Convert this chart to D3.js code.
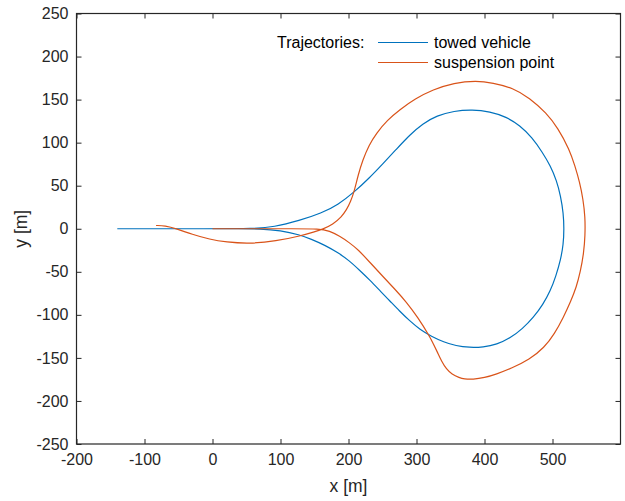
<!DOCTYPE html>
<html>
<head>
<meta charset="utf-8">
<script src="https://cdn.jsdelivr.net/npm/d3@7"></script>
<style>
  body { margin: 0; background: #fff; }
  svg { font-family: Arial, "Liberation Sans", Helvetica, sans-serif; }
</style>
</head>
<body>
<div id="chart"></div>
<script>
// tick labels
var xTicks = [-200, -100, 0, 100, 200, 300, 400, 500];
var yTicks = [-250, -200, -150, -100, -50, 0, 50, 100, 150, 200, 250];

// towed vehicle trajectory
var towedX = [-140, 0, 60, 90, 128, 160, 185, 209, 230, 250, 270, 290, 309, 330, 355, 382, 408, 432, 452, 470,
              485, 497, 506, 512, 516, 517, 516, 512, 505, 497, 486, 472, 456, 438, 418, 398, 378, 358, 340, 322,
              305, 290, 275, 261, 248, 232, 216, 201, 185, 165, 145, 128, 100, 70, 40, 0];
var towedY = [0, 0, 0, 2, 9.5, 18, 28, 43, 58.5, 75, 92, 109, 122, 131.5, 136.8, 138.5, 136, 130, 120, 106,
              89, 73, 56, 38, 18, 0, -18, -36, -55, -72, -88, -103, -116, -127, -134.5, -137.5, -138, -136, -131.5, -125,
              -117, -107, -95.5, -84, -73.5, -60, -48, -37, -28, -19, -12, -7, -2, 0, 0, 0];

// suspension point trajectory
var suspX = [-83, -70, -53, -30, -4, 20, 54, 94, 128, 150, 162, 177, 190, 197, 203, 209, 214, 221, 230, 241,
             257, 275, 298, 324, 355, 388, 412, 442, 466, 491, 508, 525, 533, 540, 545, 548, 548, 546, 541, 535,
             527, 516, 503, 488, 466, 440, 417, 400, 383, 370, 363, 352, 344, 337, 331, 325, 319, 302, 285, 268,
             250, 232, 214, 201, 187, 172, 157, 120, 60, 0];
var suspY = [3.8, 3.5, 0, -6.5, -12.4, -15.5, -17.5, -14.3, -8.6, -3.5, -0.5, 5, 14, 22, 31, 45, 62, 80, 97, 111,
             126, 138, 151, 161.5, 169.5, 172, 169.5, 163.6, 152, 134.6, 117, 92, 73, 54, 34, 14, -8, -28, -50, -68,
             -84, -103, -122, -138, -152, -162, -169, -173, -175, -174.5, -173, -169, -163, -154, -143.8, -134, -124.6, -103, -85, -70,
             -55, -39.5, -24, -16, -8.6, -2.5, 0, 0, 0, 0];

var seriesNames = ['towed vehicle', 'suspension point'];
var seriesColors = ['#0072BD', '#D95319'];

var width = 625;
var height = 501;
var padLeft = 76.5, padRight = 620.5, padTop = 13.5, padBottom = 444;

var svg = d3.select('#chart')
            .append('svg')
            .attr('width', width)
            .attr('height', height);

var x = d3.scaleLinear().domain([-200, 600]).range([padLeft, padRight]);
var y = d3.scaleLinear().domain([-250, 250]).range([padBottom, padTop]);

function styleAxis(g) {
  g.select('.domain').remove();
  g.selectAll('.tick line').attr('stroke', '#262626').attr('stroke-width', 1);
  g.selectAll('.tick text').attr('fill', '#262626').style('font-size', '16px');
}

// bottom and left axes with labels, inward ticks
svg.append('g')
   .attr('transform', 'translate(0,' + padBottom + ')')
   .call(d3.axisBottom(x).tickValues(xTicks).tickSize(-5).tickPadding(10).tickFormat(d => String(d)))
   .call(styleAxis);

svg.append('g')
   .attr('transform', 'translate(' + padLeft + ',0)')
   .call(d3.axisLeft(y).tickValues(yTicks).tickSize(-5).tickPadding(8).tickFormat(d => String(d)))
   .call(styleAxis);

// mirrored top and right ticks
svg.append('g')
   .attr('transform', 'translate(0,' + padTop + ')')
   .call(d3.axisTop(x).tickValues(xTicks).tickSize(-5).tickFormat(''))
   .call(styleAxis);

svg.append('g')
   .attr('transform', 'translate(' + padRight + ',0)')
   .call(d3.axisRight(y).tickValues(yTicks).tickSize(-5).tickFormat(''))
   .call(styleAxis);

// box
svg.append('rect')
   .attr('x', padLeft)
   .attr('y', padTop)
   .attr('width', padRight - padLeft)
   .attr('height', padBottom - padTop)
   .attr('fill', 'none')
   .attr('stroke', '#262626')
   .attr('stroke-width', 1.2);

// trajectories - a b-spline evens out the reading noise in the points
var line = d3.line()
             .x(d => x(d[0]))
             .y(d => y(d[1]))
             .curve(d3.curveBasis);

var series = [
  d3.zip(towedX, towedY),
  d3.zip(suspX, suspY)
];

svg.selectAll('.traj')
   .data(series)
   .enter()
   .append('path')
   .attr('class', 'traj')
   .attr('d', line)
   .attr('fill', 'none')
   .attr('stroke', (d, i) => seriesColors[i])
   .attr('stroke-width', 1.2);

// axis labels
svg.append('text')
   .attr('x', (padLeft + padRight) / 2)
   .attr('y', 492)
   .attr('text-anchor', 'middle')
   .attr('fill', '#262626')
   .style('font-size', '17.5px')
   .text('x [m]');

svg.append('text')
   .attr('transform', 'translate(27,' + ((padTop + padBottom) / 2) + ') rotate(-90)')
   .attr('text-anchor', 'middle')
   .attr('fill', '#262626')
   .style('font-size', '17.5px')
   .text('y [m]');

// legend
svg.append('text')
   .attr('x', 277)
   .attr('y', 48)
   .attr('fill', '#000')
   .style('font-size', '16px')
   .text('Trajectories:');

var legend = svg.selectAll('.legend-item')
                .data(seriesNames)
                .enter()
                .append('g')
                .attr('class', 'legend-item')
                .attr('transform', (d, i) => 'translate(0,' + (42.5 + i * 20) + ')');

legend.append('line')
      .attr('x1', 378)
      .attr('x2', 428)
      .attr('stroke', (d, i) => seriesColors[i])
      .attr('stroke-width', 1.2);

legend.append('text')
      .attr('x', 434)
      .attr('y', 5)
      .attr('fill', '#000')
      .style('font-size', '16px')
      .text(d => d);
</script>
</body>
</html>
